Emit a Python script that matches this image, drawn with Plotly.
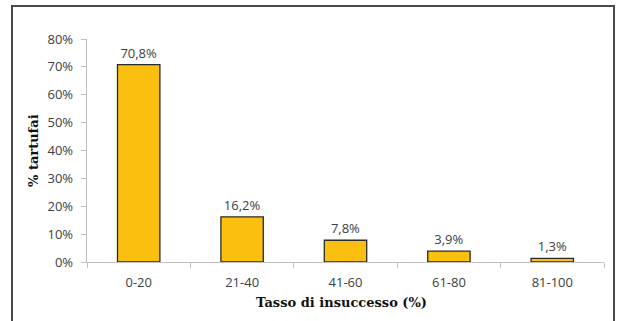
import plotly.graph_objects as go

categories = ["0-20", "21-40", "41-60", "61-80", "81-100"]
values = [70.8, 16.2, 7.8, 3.9, 1.3]
labels = ["70,8%", "16,2%", "7,8%", "3,9%", "1,3%"]
y_ticks = [0, 10, 20, 30, 40, 50, 60, 70, 80]
y_tick_labels = [f"{v}%" for v in y_ticks]
x_title = "Tasso di insuccesso (%)"
y_title = "% tartufai"

W, H = 619, 321
L, T = 87, 39
R = W - 604
B = H - 262
pw, ph = W - L - R, H - T - B

def px_x(px):
    return (px - L) / pw

def px_y(py):
    return (H - B - py) / ph

fig = go.Figure(go.Bar(
    x=categories, y=values, text=labels, textposition="outside",
    textfont=dict(family="Open Sans", size=13, color="#404040"),
    marker=dict(color="#FBBF0F", line=dict(color="#2a2a2a", width=1.3)),
    cliponaxis=False,
))

fig.update_layout(
    width=W, height=H, margin=dict(l=L, r=R, t=T, b=B, autoexpand=False),
    paper_bgcolor="white", plot_bgcolor="white",
    bargap=0.59, showlegend=False,
    font=dict(family="Open Sans", size=13, color="#404040"),
)
fig.update_xaxes(
    showline=True, linecolor="#BFBFBF", linewidth=1.3,
    ticks="outside", tickson="boundaries", ticklen=5, tickcolor="#BFBFBF",
    tickfont=dict(family="Open Sans", size=13, color="#404040"),
    ticklabelstandoff=8,
    showgrid=False, automargin=False,
)
fig.update_yaxes(
    range=[0, 80], tickvals=y_ticks, ticktext=y_tick_labels,
    showline=True, linecolor="#BFBFBF", linewidth=1.3,
    ticks="outside", ticklen=5, tickcolor="#BFBFBF",
    tickfont=dict(family="Open Sans", size=13, color="#404040"),
    ticklabelstandoff=5,
    showgrid=False, zeroline=False, automargin=False,
)

fig.add_annotation(text=x_title, xref="paper", yref="paper",
                   x=px_x(341), y=px_y(302), showarrow=False,
                   xanchor="center", yanchor="middle",
                   font=dict(family="DejaVu Serif", size=13, color="#111111", weight="bold"))
fig.add_annotation(text=y_title, xref="paper", yref="paper",
                   x=px_x(33), y=px_y(151), showarrow=False, textangle=-90,
                   xanchor="center", yanchor="middle",
                   font=dict(family="DejaVu Serif", size=13, color="#111111", weight="bold"))

# outer chart border
fig.add_shape(type="rect", xref="paper", yref="paper",
              x0=px_x(12), x1=px_x(614), y0=px_y(340), y1=px_y(6),
              line=dict(color="#4a4a4a", width=2), fillcolor="rgba(0,0,0,0)")

fig.write_html(
    "out.html",
    config={"displayModeBar": False, "staticPlot": True},
    post_script="document.body.style.margin='0';document.body.style.overflow='hidden';",
)
